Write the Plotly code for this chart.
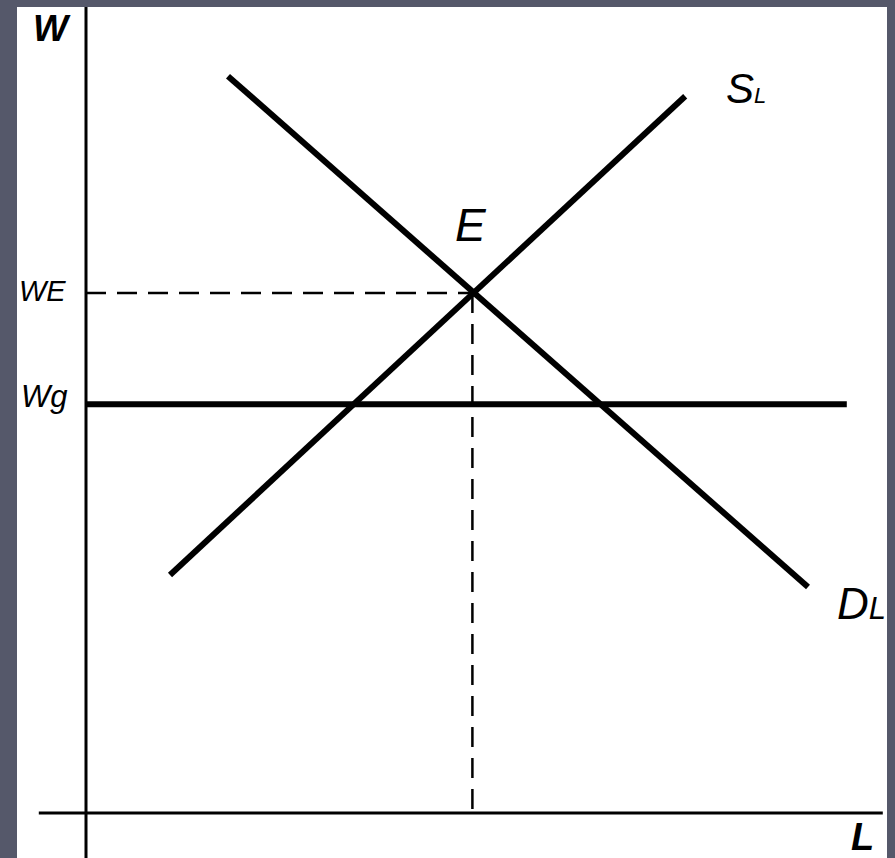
import plotly.graph_objects as go

# ---- data (units: labour L, wage W) ----
supply_L = [1.05, 7.49]
supply_W = [2.975, 8.96]
demand_L = [1.775, 9.025]
demand_W = [9.21, 2.825]
L_E = 4.83
W_E = 6.5
W_g = 5.11
wage_floor_L = [0.0, 9.51]
x_axis_L = [-0.59, 9.96]
x_range = [-0.8625, 10.0125]
y_range = [-0.5625, 10.075]

FONT = "Liberation Sans, Arial, sans-serif"
BLACK = "#000000"
BG = "#55586a"

fig = go.Figure()

# axes
fig.add_trace(go.Scatter(x=[0, 0], y=y_range, mode="lines",
                         line=dict(color=BLACK, width=3), hoverinfo="skip"))
fig.add_trace(go.Scatter(x=x_axis_L, y=[0, 0], mode="lines",
                         line=dict(color=BLACK, width=3), hoverinfo="skip"))

# dashed equilibrium guides
fig.add_trace(go.Scatter(x=[0, L_E], y=[W_E, W_E], mode="lines",
                         line=dict(color=BLACK, width=2.5, dash="20px,11px"), hoverinfo="skip"))
fig.add_trace(go.Scatter(x=[L_E, L_E], y=[W_E, 0], mode="lines",
                         line=dict(color=BLACK, width=2.5, dash="20px,11px"), hoverinfo="skip"))

# wage floor
fig.add_trace(go.Scatter(x=wage_floor_L, y=[W_g, W_g], mode="lines",
                         line=dict(color=BLACK, width=6), hoverinfo="skip"))

# supply and demand
fig.add_trace(go.Scatter(x=supply_L, y=supply_W, mode="lines",
                         line=dict(color=BLACK, width=6), hoverinfo="skip"))
fig.add_trace(go.Scatter(x=demand_L, y=demand_W, mode="lines",
                         line=dict(color=BLACK, width=6), hoverinfo="skip"))

ann = []
def lab(x, y, text, size, xanchor="center", yanchor="middle"):
    ann.append(dict(x=x, y=y, xref="x", yref="y", text=text, showarrow=False,
                    xanchor=xanchor, yanchor=yanchor,
                    font=dict(family=FONT, size=size, color=BLACK)))

lab(-0.425, 9.81, "<b><i>W</i></b>", 37)
lab(9.7, -0.3, "<b><i>L</i></b>", 38)
lab(-0.23, W_E + 0.03, "<i>WE</i>", 29, xanchor="right")
lab(-0.2, W_g + 0.1, "<i>Wg</i>", 31, xanchor="right")
lab(L_E - 0.02, 7.35, "<i>E</i>", 46)
lab(7.98, 9.06, "<i>S<span style='font-size:22px'>L</span></i>", 42, xanchor="left")
lab(9.36, 2.62, "<i>D<span style='font-size:31px'>L</span></i>", 44, xanchor="left")

fig.update_layout(
    width=895, height=858,
    margin=dict(l=17, r=8, t=7, b=0, pad=0),
    paper_bgcolor=BG,
    plot_bgcolor="#ffffff",
    showlegend=False,
    annotations=ann,
    xaxis=dict(range=x_range, visible=False, fixedrange=True),
    yaxis=dict(range=y_range, visible=False, fixedrange=True),
)

fig.write_html(
    "out.html",
    config={"displayModeBar": False},
    post_script="document.body.style.margin='0';document.body.style.overflow='hidden';"
                "document.body.style.background='" + BG + "';",
)
